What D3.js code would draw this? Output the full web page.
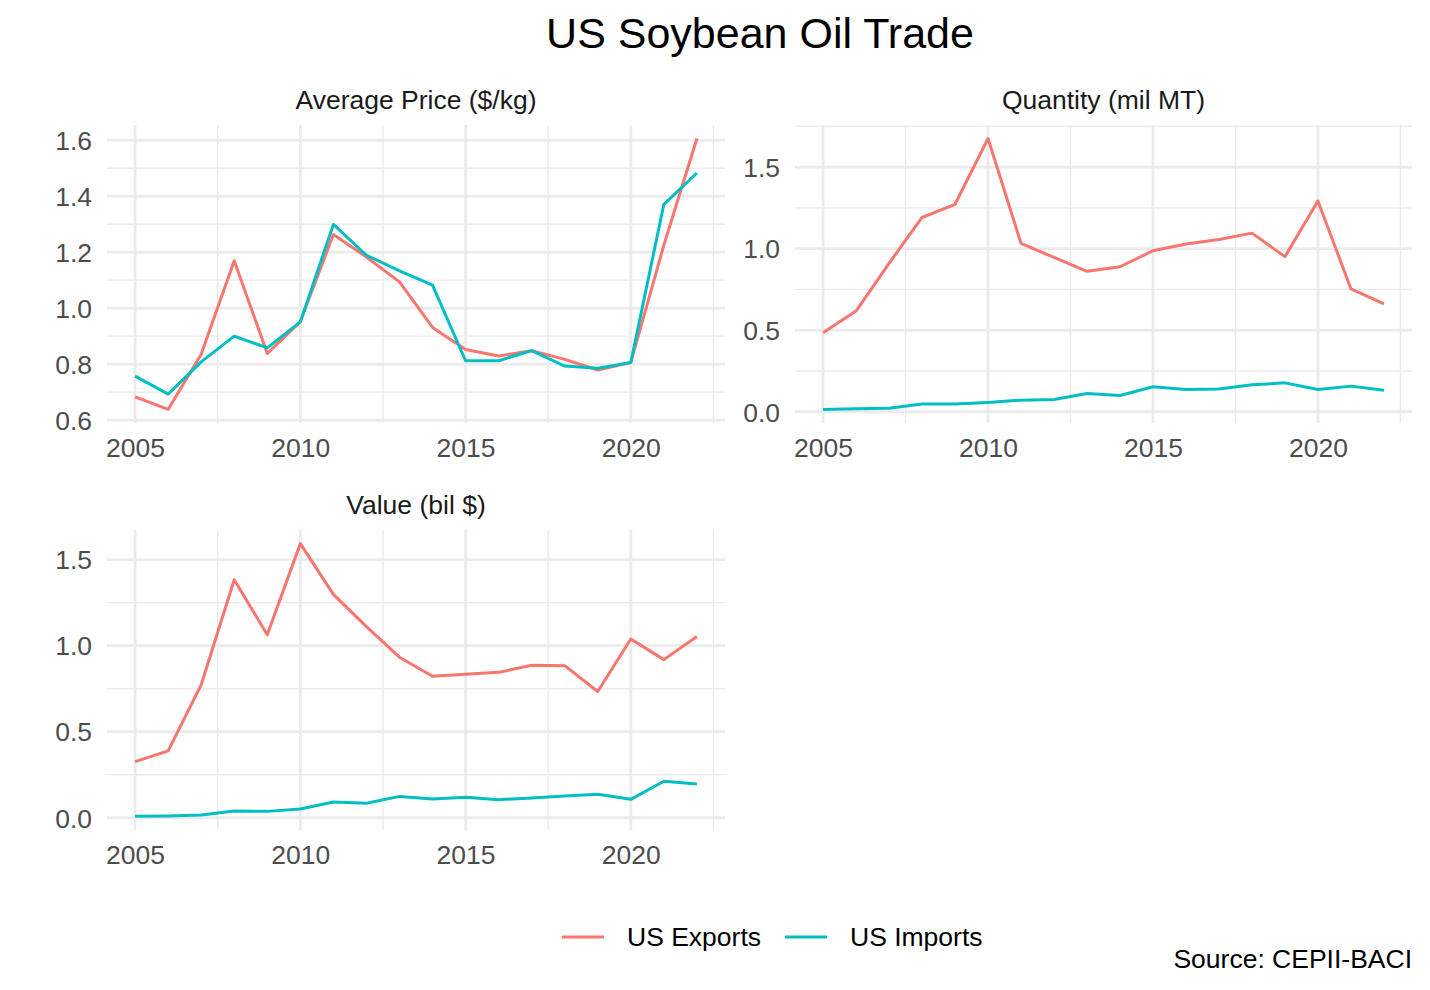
<!DOCTYPE html>
<html>
<head>
<meta charset="utf-8">
<script src="https://cdn.jsdelivr.net/npm/d3@7"></script>
<style>
  body { margin: 0; background: #fff; }
  text { font-family: "Liberation Sans", Arial, sans-serif; }
</style>
</head>
<body>
<div id="chart"></div>
<script>
// data
const years = [2005, 2006, 2007, 2008, 2009, 2010, 2011, 2012, 2013, 2014, 2015, 2016, 2017, 2018, 2019, 2020, 2021, 2022];

const priceExports = [0.683, 0.638, 0.835, 1.169, 0.838, 0.952, 1.263, 1.183, 1.094, 0.931, 0.852, 0.829, 0.848, 0.817, 0.779, 0.806, 1.225, 1.606];
const priceImports = [0.757, 0.693, 0.808, 0.900, 0.858, 0.951, 1.299, 1.189, 1.133, 1.082, 0.812, 0.812, 0.848, 0.793, 0.785, 0.806, 1.371, 1.483];

const qtyExports = [0.484, 0.617, 0.910, 1.191, 1.272, 1.675, 1.032, 0.946, 0.861, 0.889, 0.987, 1.028, 1.056, 1.095, 0.951, 1.292, 0.753, 0.661];
const qtyImports = [0.014, 0.018, 0.022, 0.047, 0.047, 0.057, 0.071, 0.075, 0.112, 0.100, 0.153, 0.136, 0.140, 0.165, 0.177, 0.136, 0.157, 0.132];

const valueExports = [0.326, 0.389, 0.773, 1.383, 1.063, 1.593, 1.298, 1.111, 0.933, 0.822, 0.834, 0.845, 0.886, 0.884, 0.734, 1.039, 0.919, 1.053];
const valueImports = [0.008, 0.010, 0.016, 0.039, 0.037, 0.051, 0.091, 0.084, 0.124, 0.109, 0.119, 0.105, 0.115, 0.126, 0.136, 0.107, 0.212, 0.196];

const seriesNames = ["US Exports", "US Imports"];
const seriesColors = ["#F8766D", "#00BFC4"];

const panelTitles = ["Average Price ($/kg)", "Quantity (mil MT)", "Value (bil $)"];
const xTicks = [2005, 2010, 2015, 2020];
const yTicksPrice = [0.6, 0.8, 1.0, 1.2, 1.4, 1.6];
const yTicksQty = [0.0, 0.5, 1.0, 1.5];
const yTicksValue = [0.0, 0.5, 1.0, 1.5];

const w = 1430;
const h = 990;
const fs = "26.5px";

const svg = d3.select("#chart")
  .append("svg")
  .attr("width", w)
  .attr("height", h);

svg.append("text")
  .attr("x", 760)
  .attr("y", 48)
  .attr("text-anchor", "middle")
  .style("font-size", "43px")
  .style("fill", "#000")
  .text("US Soybean Oil Trade");

const panels = [
  { title: panelTitles[0], exp: priceExports, imp: priceImports, ticks: yTicksPrice, step: 0.1, fmt: d3.format(".1f"), x0: 107, x1: 725, y0: 125, y1: 423 },
  { title: panelTitles[1], exp: qtyExports, imp: qtyImports, ticks: yTicksQty, step: 0.25, fmt: d3.format(".1f"), x0: 795, x1: 1412, y0: 125, y1: 423 },
  { title: panelTitles[2], exp: valueExports, imp: valueImports, ticks: yTicksValue, step: 0.25, fmt: d3.format(".1f"), x0: 107, x1: 725, y0: 530, y1: 830 }
];

// ggplot-like 5% expansion
function expand(ext) {
  const r = ext[1] - ext[0];
  return [ext[0] - r * 0.05, ext[1] + r * 0.05];
}

panels.forEach((p) => {
  const xScale = d3.scaleLinear()
    .domain(expand(d3.extent(years)))
    .range([p.x0, p.x1]);
  const yScale = d3.scaleLinear()
    .domain(expand(d3.extent(p.exp.concat(p.imp))))
    .range([p.y1, p.y0]);

  const g = svg.append("g");
  const xd = xScale.domain();
  const yd = yScale.domain();

  // minor grid
  const xMinor = xTicks.map(t => t + 2.5).concat([xTicks[0] - 2.5]).filter(t => t >= xd[0] && t <= xd[1]);
  const yMinor = p.ticks.map(t => t + p.step).concat([p.ticks[0] - p.step]).filter(t => t >= yd[0] && t <= yd[1]);

  g.selectAll(".xminor").data(xMinor).enter().append("line")
    .attr("x1", d => xScale(d)).attr("x2", d => xScale(d))
    .attr("y1", p.y0).attr("y2", p.y1)
    .attr("stroke", "#EBEBEB").attr("stroke-width", 1.4);
  g.selectAll(".yminor").data(yMinor).enter().append("line")
    .attr("x1", p.x0).attr("x2", p.x1)
    .attr("y1", d => yScale(d)).attr("y2", d => yScale(d))
    .attr("stroke", "#EBEBEB").attr("stroke-width", 1.4);

  // major grid
  g.selectAll(".xmajor").data(xTicks).enter().append("line")
    .attr("x1", d => xScale(d)).attr("x2", d => xScale(d))
    .attr("y1", p.y0).attr("y2", p.y1)
    .attr("stroke", "#EBEBEB").attr("stroke-width", 2.8);
  g.selectAll(".ymajor").data(p.ticks).enter().append("line")
    .attr("x1", p.x0).attr("x2", p.x1)
    .attr("y1", d => yScale(d)).attr("y2", d => yScale(d))
    .attr("stroke", "#EBEBEB").attr("stroke-width", 2.8);

  // axes, labels only
  const xAxis = d3.axisBottom(xScale).tickValues(xTicks).tickSize(0).tickPadding(0).tickFormat(d3.format("d"));
  const gx = g.append("g")
    .attr("transform", `translate(0, ${p.y1 + 15})`)
    .call(xAxis);
  const yAxis = d3.axisLeft(yScale).tickValues(p.ticks).tickSize(0).tickPadding(0).tickFormat(p.fmt);
  const gy = g.append("g")
    .attr("transform", `translate(${p.x0 - 15}, 0)`)
    .call(yAxis);
  [gx, gy].forEach(a => {
    a.select(".domain").remove();
    a.selectAll("text")
      .style("font-size", fs)
      .style("fill", "#4D4D4D")
      .style("font-family", "'Liberation Sans', Arial, sans-serif");
  });
  gy.selectAll("text").attr("dy", "0.35em");

  // strip title
  g.append("text")
    .attr("x", (p.x0 + p.x1) / 2)
    .attr("y", p.y0 - 16)
    .attr("text-anchor", "middle")
    .style("font-size", fs)
    .style("fill", "#1A1A1A")
    .text(p.title);

  const line = d3.line()
    .x((d, i) => xScale(years[i]))
    .y(d => yScale(d));

  [p.exp, p.imp].forEach((s, k) => {
    g.append("path")
      .datum(s)
      .attr("d", line)
      .attr("fill", "none")
      .attr("stroke", seriesColors[k])
      .attr("stroke-width", 3)
      .attr("stroke-linejoin", "round");
  });
});

// legend
const legendX = [562, 785];
seriesNames.forEach((name, k) => {
  svg.append("line")
    .attr("x1", legendX[k]).attr("x2", legendX[k] + 42)
    .attr("y1", 937).attr("y2", 937)
    .attr("stroke", seriesColors[k])
    .attr("stroke-width", 3);
  svg.append("text")
    .attr("x", legendX[k] + 65)
    .attr("y", 946)
    .style("font-size", fs)
    .style("fill", "#000")
    .text(name);
});

svg.append("text")
  .attr("x", 1412)
  .attr("y", 968)
  .attr("text-anchor", "end")
  .style("font-size", fs)
  .style("fill", "#000")
  .text("Source: CEPII-BACI");
</script>
</body>
</html>
